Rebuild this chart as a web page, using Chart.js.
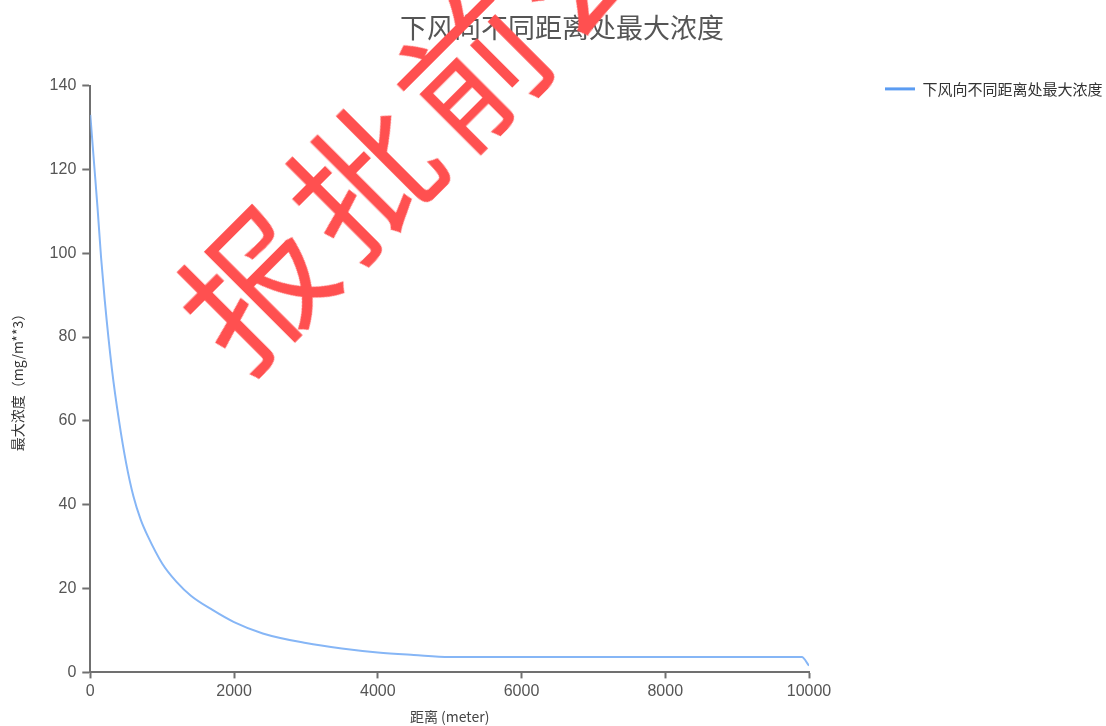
<!DOCTYPE html>
<html>
<head>
<meta charset="utf-8">
<script src="https://cdn.jsdelivr.net/npm/chart.js@4"></script>
<style>
  html, body { margin: 0; padding: 0; background: #fff; }
  #wrap { position: relative; width: 1106px; height: 726px; overflow: hidden; }
  #stamp {
    position: absolute; left: 199px; top: 261px;
    font: 144px/1 "Noto Sans CJK SC", sans-serif;
    letter-spacing: 10px; white-space: nowrap; color: #ff5050;
    transform-origin: 0 50%; transform: rotate(-45deg);
    pointer-events: none;
  }
</style>
</head>
<body>
<div id="wrap">
  <canvas id="chart"></canvas>
  <div id="stamp">报批前公示</div>
</div>
<script>
'use strict';

// ── DATA ───────────────────────────────────────────────────
const TITLE = '下风向不同距离处最大浓度';
const SERIES_NAME = '下风向不同距离处最大浓度';
const X_TITLE = '距离 (meter)';
const Y_TITLE = '最大浓度（mg/m**3）';

// distance downwind (m)
const distances = [0, 50, 100, 150, 200, 300, 400, 500, 600, 700, 800, 1000, 1200, 1400,
  1700, 2000, 2400, 3000, 3500, 4000, 4500, 5000, 6000, 7000, 8000, 9000, 9900, 10000];
// max concentration (mg/m**3)
const concentrations = [133, 122, 111, 99, 89, 72.5, 60, 49.8, 42, 36.5, 32.5, 26, 21.6, 18.3,
  14.9, 12, 9.3, 7.0, 5.7, 4.75, 4.15, 3.66, 3.66, 3.66, 3.66, 3.66, 3.66, 1.6];

const X_MIN = 0, X_MAX = 10000, X_STEP = 2000;
const Y_MIN = 0, Y_MAX = 140, Y_STEP = 20;

// ── STYLE ──────────────────────────────────────────────────
const CJK = '"Noto Sans CJK SC", sans-serif';
const NUM = '"Liberation Sans", Arial, sans-serif';
const AXIS = '#707070';
const LINE = '#86b6f6';

const axisCommon = {
  grid: { display: true, drawOnChartArea: false, drawTicks: true, tickColor: AXIS, tickWidth: 2 },
  border: { display: true, color: AXIS, width: 2 }
};

// ── CHART ──────────────────────────────────────────────────
const chart = new Chart(document.getElementById('chart'), {
  type: 'line',
  data: {
    datasets: [{
      label: SERIES_NAME,
      data: distances.map((d, i) => ({ x: d, y: concentrations[i] })),
      borderColor: LINE,
      borderWidth: 2,
      pointRadius: 0,
      fill: false,
      cubicInterpolationMode: 'monotone'
    }]
  },
  options: {
    responsive: true,
    maintainAspectRatio: false,
    animation: false,
    layout: { padding: { left: 18 } },
    plugins: {
      title: {
        display: true, text: TITLE, color: '#555',
        font: { family: CJK, size: 27, weight: 'normal' },
        padding: { top: 12, bottom: 41.2 }
      },
      legend: {
        position: 'right', align: 'start', maxWidth: 231,
        title: { display: true, text: '', padding: { top: 57, bottom: 0 } },
        labels: {
          usePointStyle: true, pointStyle: 'line', pointStyleWidth: 30,
          color: '#333', font: { family: CJK, size: 15 },
          generateLabels: c => Chart.defaults.plugins.legend.labels.generateLabels(c)
            .map(l => ({ ...l, lineWidth: 3, strokeStyle: '#5b9cf2' }))
        }
      },
      tooltip: { enabled: false }
    },
    scales: {
      x: {
        type: 'linear', min: X_MIN, max: X_MAX,
        ...axisCommon,
        grid: { ...axisCommon.grid, tickLength: 6 },
        ticks: { stepSize: X_STEP, color: '#555', padding: 4, maxRotation: 0,
          font: { family: NUM, size: 16 }, callback: v => String(v) },
        title: { display: true, text: X_TITLE, color: '#444', font: { family: CJK, size: 14 }, padding: { top: 3, bottom: 0.6 } }
      },
      y: {
        min: Y_MIN, max: Y_MAX,
        ...axisCommon,
        grid: { ...axisCommon.grid, tickLength: 8 },
        ticks: { stepSize: Y_STEP, color: '#555', padding: 6, font: { family: NUM, size: 16 } },
        title: { display: true, text: Y_TITLE, color: '#333', font: { family: CJK, size: 14 }, padding: { top: -8.6, bottom: 17.4 } }
      },
      // spacer between plot and legend
      gap: {
        position: 'right', display: true,
        grid: { display: false }, border: { display: false }, ticks: { display: false },
        afterFit: s => { s.width = 66; }
      }
    }
  }
});
</script>
</body>
</html>
